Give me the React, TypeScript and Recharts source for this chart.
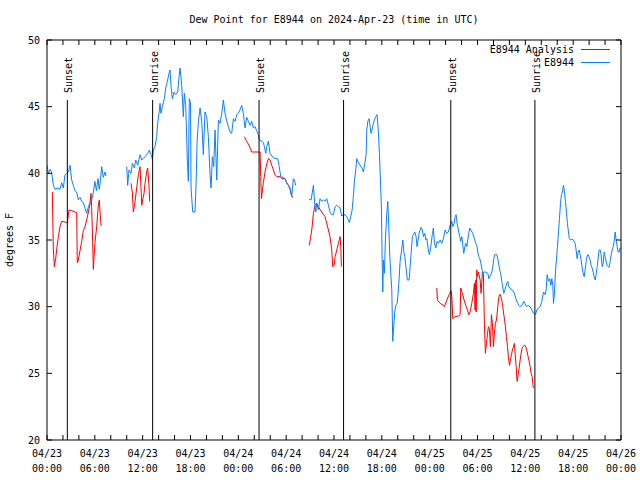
import React from 'react';
import { LineChart, Line, XAxis, YAxis, ReferenceLine } from 'recharts';

// x = hours since 2024-04-23 00:00 UTC, y = dew point in degrees F
const obsPart1: [number, number][] = [
  [0, 40.6], [0.17, 40.0], [0.4, 40.3], [0.58, 40.1], [0.8, 39.1], [1.0, 38.8], [1.3, 38.9],
  [1.63, 38.8], [1.84, 39.3], [2.05, 38.9], [2.26, 39.9], [2.47, 40.0], [2.68, 40.1], [2.89, 40.6],
  [3.1, 39.5], [3.3, 39.1], [3.5, 38.7], [3.72, 38.6], [3.93, 38.0], [4.14, 38.2], [4.35, 37.9],
  [4.56, 37.8], [4.77, 37.4], [4.98, 37.0], [5.19, 37.5], [5.4, 37.8], [5.6, 38.0], [5.8, 38.5],
  [6.0, 39.4], [6.2, 38.7], [6.4, 39.6], [6.55, 38.8], [6.65, 39.2], [6.86, 40.5], [7.06, 39.7],
  [7.28, 40.1], [7.4, 39.8],
];

const obsPart2: [number, number][] = [
  [10.0, 40.5], [10.12, 39.1], [10.29, 40.25], [10.54, 40.0], [10.7, 40.75], [10.96, 40.4],
  [11.13, 41.0], [11.38, 40.6], [11.67, 41.4], [11.88, 41.0], [12.08, 41.1], [12.3, 41.25],
  [12.63, 41.5], [12.84, 41.75], [13.05, 41.4], [13.21, 41.1], [13.34, 41.75], [13.55, 42.0],
  [13.76, 42.75], [13.88, 43.75], [14.05, 44.5], [14.18, 45.25], [14.3, 44.5], [14.47, 45.0],
  [14.72, 45.6], [14.89, 46.4], [15.1, 46.9], [15.3, 47.5], [15.43, 47.75], [15.56, 46.5],
  [15.73, 45.6], [15.93, 46.1], [16.14, 45.9], [16.4, 46.1], [16.56, 47.25], [16.69, 47.9],
  [16.9, 46.6], [17.1, 44.25], [17.23, 46.0], [17.4, 45.1], [17.6, 41.1], [17.73, 39.4],
  [17.85, 45.6], [18.0, 45.3], [18.07, 38.9], [18.28, 37.1], [18.57, 37.1], [18.7, 39.25],
  [18.82, 42.25], [18.99, 43.9], [19.2, 44.9], [19.41, 43.9], [19.61, 41.4], [19.82, 44.6],
  [20.04, 44.25], [20.24, 42.75], [20.45, 39.9], [20.58, 38.9], [20.74, 41.25], [20.91, 40.5],
  [21.08, 43.25], [21.29, 39.5], [21.5, 44.0], [21.7, 43.75], [21.92, 44.5], [22.12, 45.5],
  [22.33, 44.5], [22.55, 43.9], [22.75, 43.5], [22.96, 43.1], [23.17, 43.0], [23.38, 44.1],
  [23.59, 43.9], [23.8, 44.4], [24.0, 44.5], [24.2, 44.75], [24.43, 45.1], [24.63, 44.5],
  [24.84, 43.4], [25.05, 44.2], [25.26, 43.9], [25.47, 43.6], [25.68, 43.9], [25.88, 43.4],
  [26.1, 43.5], [26.3, 43.2], [26.5, 42.9], [26.64, 42.5], [26.94, 42.4], [27.14, 42.3],
  [27.27, 42.0], [27.44, 41.5], [27.56, 42.0], [27.77, 42.4], [27.98, 41.5], [28.19, 41.3],
  [28.4, 41.2], [28.6, 41.1], [28.95, 41.1], [29.1, 40.6], [29.32, 39.75], [29.65, 39.7],
  [29.86, 39.6], [30.07, 39.25], [30.28, 39.1], [30.49, 38.9], [30.7, 38.25], [30.9, 39.6],
  [31.03, 39.5], [31.2, 39.1],
];

const obsPart3: [number, number][] = [
  [32.87, 38.05], [33.12, 38.0], [33.29, 38.6], [33.42, 39.1], [33.54, 38.0], [33.71, 37.1],
  [33.84, 37.75], [34.04, 37.25], [34.25, 38.1], [34.46, 37.9], [34.67, 38.0], [34.88, 37.9],
  [35.09, 38.1], [35.3, 37.6], [35.5, 37.1], [35.72, 36.9], [35.92, 36.9], [36.14, 37.5],
  [36.34, 37.6], [36.55, 37.5], [36.76, 37.4], [36.97, 36.8], [37.18, 36.9], [37.39, 36.9],
  [37.6, 36.75], [37.8, 36.5], [37.93, 36.3], [38.1, 36.75], [38.27, 37.25], [38.43, 38.25],
  [38.56, 39.4], [38.73, 40.25], [38.86, 41.1], [38.98, 40.9], [39.15, 40.75], [39.36, 40.5],
  [39.52, 40.4], [39.69, 40.1], [39.86, 40.75], [40.03, 41.4], [40.11, 43.25], [40.24, 43.9],
  [40.4, 44.1], [40.53, 43.5], [40.65, 43.0], [40.82, 43.4], [40.94, 43.75], [41.12, 44.1],
  [41.24, 44.25], [41.4, 44.4], [41.53, 43.5], [41.7, 41.5], [41.82, 39.5], [41.95, 37.4],
  [42.03, 33.9], [42.12, 31.1], [42.2, 33.5], [42.32, 32.5], [42.45, 35.0], [42.53, 36.0],
  [42.62, 37.0], [42.75, 37.9], [42.87, 36.0], [43.0, 33.75], [43.12, 32.5], [43.25, 31.25],
  [43.37, 27.4], [43.5, 28.6], [43.62, 29.6], [43.75, 30.1], [43.92, 30.25], [44.04, 31.0],
  [44.17, 32.1], [44.29, 33.4], [44.45, 34.1], [44.63, 35.0], [44.76, 34.1], [44.88, 33.75],
  [45.04, 32.9], [45.2, 32.0], [45.42, 32.0], [45.55, 33.0], [45.67, 34.0], [45.84, 35.25],
  [45.96, 35.4], [46.13, 35.6], [46.3, 35.25], [46.42, 34.5], [46.55, 35.0], [46.71, 35.6],
  [46.93, 35.95], [47.09, 35.75], [47.22, 35.25], [47.39, 35.5], [47.52, 35.0], [47.64, 35.1],
  [47.84, 34.25], [47.97, 33.9], [48.14, 34.5], [48.35, 35.5], [48.47, 35.9], [48.6, 34.75],
  [48.77, 34.4], [48.93, 34.9], [49.1, 34.75], [49.31, 35.0], [49.52, 34.75], [49.72, 35.1],
  [49.94, 35.75], [50.15, 35.5], [50.35, 35.6], [50.56, 36.1], [50.78, 36.4], [50.9, 36.0],
  [51.07, 36.25], [51.19, 36.75], [51.32, 36.9], [51.44, 36.25], [51.6, 35.75], [51.78, 35.25],
  [51.9, 34.9], [52.03, 35.25], [52.16, 34.6], [52.28, 34.0], [52.41, 34.5], [52.53, 34.75],
  [52.66, 34.5], [52.78, 35.0], [52.9, 35.5], [53.03, 35.9], [53.16, 35.75], [53.41, 35.5],
  [53.66, 35.0], [53.79, 34.75], [53.91, 34.6], [54.04, 34.1], [54.16, 33.75], [54.29, 33.6],
  [54.42, 33.25], [54.54, 32.9], [54.67, 32.4], [54.79, 32.6], [55.04, 32.6], [55.3, 32.5],
  [55.42, 32.1], [55.55, 32.25], [55.67, 32.4], [55.8, 32.6], [55.92, 33.0], [56.05, 33.6],
  [56.17, 33.9], [56.42, 33.9], [56.55, 33.6], [56.68, 33.1], [56.8, 32.75], [56.93, 32.4],
  [57.05, 31.9], [57.18, 31.4], [57.3, 31.0], [57.43, 31.25], [57.55, 31.5], [57.68, 31.75],
  [57.8, 31.9], [57.93, 31.5], [58.06, 31.4], [58.31, 31.25], [58.56, 31.1], [58.68, 30.9],
  [58.81, 30.6], [58.93, 30.4], [59.06, 30.25], [59.18, 30.1], [59.31, 30.0], [59.56, 30.1],
  [59.81, 30.4], [59.94, 30.25], [60.06, 30.1], [60.19, 30.0], [60.31, 30.1], [60.57, 30.0],
  [60.69, 29.9], [60.82, 29.75], [60.94, 29.6], [61.07, 29.5], [61.19, 29.4], [61.32, 29.5],
  [61.44, 29.75], [61.65, 29.9], [61.86, 30.0], [62.07, 30.4], [62.27, 31.1], [62.48, 30.9],
  [62.61, 31.25], [62.74, 32.4], [62.9, 31.9], [63.07, 32.1], [63.2, 31.6], [63.32, 32.1],
  [63.45, 31.6], [63.53, 30.25], [63.65, 31.0], [63.78, 32.6], [63.9, 33.5], [64.03, 34.5],
  [64.16, 35.6], [64.28, 36.6], [64.41, 37.75], [64.53, 38.4], [64.66, 38.6], [64.78, 39.1],
  [64.91, 38.6], [65.03, 37.9], [65.16, 37.1], [65.28, 36.25], [65.41, 35.6], [65.53, 35.1],
  [65.66, 35.0], [65.83, 35.05], [66.04, 35.0], [66.25, 34.75], [66.37, 34.25], [66.5, 33.6],
  [66.62, 34.1], [66.75, 34.25], [66.88, 33.9], [67.0, 33.5], [67.13, 32.9], [67.25, 32.5],
  [67.38, 32.25], [67.5, 32.75], [67.63, 33.4], [67.75, 33.8], [67.88, 33.9], [68.0, 33.7],
  [68.13, 33.5], [68.26, 33.1], [68.38, 32.9], [68.51, 32.6], [68.63, 32.25], [68.76, 32.0],
  [68.88, 32.4], [69.01, 33.0], [69.13, 33.6], [69.26, 34.25], [69.39, 34.25], [69.51, 33.9],
  [69.64, 33.0], [69.76, 33.25], [69.89, 34.1], [70.01, 33.75], [70.14, 33.4], [70.26, 33.1],
  [70.39, 33.0], [70.51, 32.95], [70.64, 33.4], [70.77, 33.9], [70.89, 34.25], [71.02, 34.5],
  [71.14, 34.9], [71.27, 35.6], [71.39, 35.0], [71.52, 34.5], [71.64, 34.1], [71.77, 34.1],
  [71.89, 34.4], [72.0, 34.4],
];

const anaPart1: [number, number][] = [
  [0.67, 38.6], [0.71, 37.1], [0.79, 34.4], [0.92, 33.0], [1.09, 33.6], [1.21, 34.3],
  [1.42, 35.2], [1.63, 36.0], [1.84, 36.4], [2.26, 36.35], [2.55, 36.3], [2.76, 37.25],
  [3.1, 37.2], [3.72, 37.05], [3.8, 33.3], [3.93, 33.5], [4.14, 34.2], [4.35, 34.9],
  [4.56, 35.7], [4.77, 36.0], [4.98, 36.5], [5.19, 37.1], [5.4, 37.7], [5.52, 38.5],
  [5.6, 37.5], [5.73, 34.8], [5.81, 32.8], [5.9, 33.7], [6.02, 34.8], [6.23, 36.0],
  [6.44, 37.6], [6.56, 38.0], [6.65, 37.1], [6.78, 36.1], [6.86, 36.1],
];

const anaPart2: [number, number][] = [
  [10.54, 39.25], [10.7, 38.6], [10.83, 37.1], [10.96, 37.5], [11.13, 38.3], [11.25, 38.9],
  [11.46, 39.9], [11.67, 40.5], [11.8, 38.8], [11.88, 37.6], [12.0, 38.0], [12.17, 38.5],
  [12.3, 39.25], [12.5, 40.1], [12.63, 40.4], [12.8, 39.0], [12.88, 37.9],
];

const anaPart3: [number, number][] = [
  [24.76, 42.75], [25.05, 42.4], [25.35, 42.1], [25.68, 41.6], [26.73, 41.6], [26.81, 39.75],
  [26.9, 38.1], [27.02, 38.7], [27.14, 39.3], [27.35, 40.1], [27.56, 40.7], [27.77, 41.1],
  [27.98, 41.0], [28.19, 40.6], [28.4, 40.25], [28.6, 39.9], [28.82, 39.75], [29.23, 39.75],
  [29.45, 39.6], [29.86, 39.6], [30.07, 39.3], [30.28, 39.1], [30.49, 38.8], [30.7, 38.25],
  [30.9, 38.2],
];

const anaPart4: [number, number][] = [
  [32.91, 34.6], [33.21, 35.75], [33.42, 37.0], [33.63, 37.6], [33.84, 37.75], [34.04, 37.5],
  [34.46, 37.1], [34.88, 36.75], [35.09, 36.25], [35.3, 35.75], [35.5, 35.25], [35.72, 34.25],
  [35.84, 33.0], [36.01, 33.1], [36.14, 33.75], [36.35, 34.25], [36.55, 34.75], [36.76, 35.25],
  [36.85, 34.5], [36.93, 33.0],
];

const anaPart5: [number, number][] = [
  [48.89, 31.4], [48.97, 30.5], [49.31, 30.25], [49.72, 30.1], [49.85, 30.0], [50.15, 30.5],
  [50.44, 30.9], [50.69, 31.2], [50.78, 30.75], [50.9, 29.1], [51.19, 29.25], [51.6, 29.3],
  [51.82, 29.4], [51.9, 31.4], [52.11, 31.0], [52.32, 30.5], [52.53, 30.1], [52.74, 29.75],
  [52.91, 29.4], [53.07, 29.6], [53.28, 30.25], [53.49, 31.0], [53.61, 31.75], [53.7, 29.75],
  [53.79, 32.0], [53.83, 29.6], [53.91, 32.75], [53.99, 32.25], [54.12, 32.6], [54.33, 32.0],
  [54.45, 31.0], [54.62, 32.6], [54.74, 32.4], [54.87, 28.6], [54.99, 26.5], [55.12, 27.25],
  [55.24, 27.9], [55.37, 28.5], [55.5, 28.25], [55.62, 27.0], [55.75, 29.4], [55.87, 28.75],
  [56.0, 27.0], [56.12, 28.0], [56.25, 28.75], [56.38, 29.0], [56.5, 29.75], [56.63, 30.5],
  [56.75, 30.9], [56.88, 30.9], [57.0, 30.6], [57.13, 30.25], [57.25, 29.6], [57.38, 29.1],
  [57.5, 28.5], [57.63, 27.75], [57.76, 27.0], [57.88, 26.25], [58.01, 25.6], [58.13, 26.0],
  [58.26, 26.4], [58.38, 26.75], [58.51, 27.0], [58.63, 27.25], [58.72, 26.5], [58.85, 25.5],
  [58.97, 24.4], [59.1, 24.9], [59.22, 25.4], [59.35, 26.0], [59.47, 26.5], [59.6, 26.9],
  [59.72, 27.0], [59.85, 27.1], [59.97, 27.1], [60.1, 26.9], [60.23, 26.6], [60.35, 26.25],
  [60.48, 25.9], [60.6, 25.5], [60.73, 25.0], [60.85, 24.75], [60.98, 24.0], [61.02, 23.9],
];

const sunHours = [2.55, 13.25, 26.6, 37.2, 50.65, 61.2];
const sunLabels = ['Sunset', 'Sunrise', 'Sunset', 'Sunrise', 'Sunset', 'Sunrise'];

const xTicks = [0, 2, 4, 6, 8, 10, 12, 14, 16, 18, 20, 22, 24, 26, 28, 30, 32, 34, 36,
  38, 40, 42, 44, 46, 48, 50, 52, 54, 56, 58, 60, 62, 64, 66, 68, 70, 72];
const xLabelHours = [0, 6, 12, 18, 24, 30, 36, 42, 48, 54, 60, 66, 72];
const xLabelDates = ['04/23', '04/23', '04/23', '04/23', '04/24', '04/24', '04/24', '04/24',
  '04/25', '04/25', '04/25', '04/25', '04/26'];
const xLabelTimes = ['00:00', '06:00', '12:00', '18:00', '00:00', '06:00', '12:00', '18:00',
  '00:00', '06:00', '12:00', '18:00', '00:00'];
const yTicks = [20, 25, 30, 35, 40, 45, 50];

const FONT = 'DejaVu Sans Mono, Liberation Mono, monospace';
const TICK = 5;

// join gap-separated pieces into one series, null breaks the line
const joinParts = (parts: [number, number][][]) => {
  const out: { t: number; v: number | null }[] = [];
  parts.forEach((p, i) => {
    if (i > 0) out.push({ t: (out[out.length - 1].t + p[0][0]) / 2, v: null });
    p.forEach(([t, v]) => out.push({ t, v }));
  });
  return out;
};

const obsData = joinParts([obsPart1, obsPart2, obsPart3]);
const anaData = joinParts([anaPart1, anaPart2, anaPart3, anaPart4, anaPart5]);

const BottomTick = (props: any) => {
  const { x, y, payload } = props;
  const i = xLabelHours.indexOf(payload.value);
  return (
    <g>
      <line x1={x} y1={y} x2={x} y2={y - TICK} stroke="#000" />
      {i >= 0 && (
        <text x={x} y={y + 17} textAnchor="middle" fontFamily={FONT} fontSize={10} fill="#000">
          <tspan x={x}>{xLabelDates[i]}</tspan>
          <tspan x={x} dy={15}>{xLabelTimes[i]}</tspan>
        </text>
      )}
    </g>
  );
};

const TopTick = (props: any) => (
  <line x1={props.x} y1={props.y} x2={props.x} y2={props.y + TICK} stroke="#000" />
);

const LeftTick = (props: any) => {
  const { x, y, payload } = props;
  return (
    <g>
      <line x1={x} y1={y} x2={x + TICK} y2={y} stroke="#000" />
      <text x={x - 7} y={y + 3.5} textAnchor="end" fontFamily={FONT} fontSize={10} fill="#000">
        {payload.value}
      </text>
    </g>
  );
};

const RightTick = (props: any) => (
  <line x1={props.x} y1={props.y} x2={props.x - TICK} y2={props.y} stroke="#000" />
);

const sunLabel = (text: string) => (p: any) => {
  const vb = p.viewBox || {};
  if (vb.x == null) return null;
  const x = vb.x + 5;
  const y = vb.y - 7;
  return (
    <text x={x} y={y} transform={`rotate(-90 ${x} ${y})`} fontFamily={FONT} fontSize={10} fill="#000">
      {text}
    </text>
  );
};

export default function App() {
  return (
    <div style={{ position: 'absolute', left: 0, top: 0, width: 640, height: 480, background: '#fff' }}>
      <LineChart width={640} height={480} margin={{ top: 39, right: 18, bottom: 39, left: 46 }}>
        <XAxis
          type="number"
          dataKey="t"
          domain={[0, 72]}
          ticks={xTicks}
          interval={0}
          allowDataOverflow
          height={1}
          tickSize={0}
          tickMargin={0}
          tickLine={false}
          axisLine={{ stroke: '#000' }}
          tick={(p: any) => <BottomTick {...p} />}
        />
        <XAxis
          xAxisId="top"
          orientation="top"
          type="number"
          dataKey="t"
          domain={[0, 72]}
          ticks={xTicks}
          interval={0}
          allowDataOverflow
          height={1}
          tickSize={0}
          tickMargin={0}
          tickLine={false}
          axisLine={{ stroke: '#000' }}
          tick={(p: any) => <TopTick {...p} />}
        />
        <YAxis
          type="number"
          domain={[20, 50]}
          ticks={yTicks}
          interval={0}
          allowDataOverflow
          width={1}
          tickSize={0}
          tickMargin={0}
          tickLine={false}
          axisLine={{ stroke: '#000' }}
          tick={(p: any) => <LeftTick {...p} />}
        />
        <YAxis
          yAxisId="right"
          orientation="right"
          type="number"
          domain={[20, 50]}
          ticks={yTicks}
          interval={0}
          allowDataOverflow
          width={1}
          tickSize={0}
          tickMargin={0}
          tickLine={false}
          axisLine={{ stroke: '#000' }}
          tick={(p: any) => <RightTick {...p} />}
        />
        <Line
          data={anaData}
          dataKey="v"
          type="linear"
          stroke="#ff0000"
          strokeWidth={1}
          dot={false}
          activeDot={false}
          connectNulls={false}
          isAnimationActive={false}
        />
        <Line
          data={obsData}
          dataKey="v"
          type="linear"
          stroke="#0a80ff"
          strokeWidth={1}
          dot={false}
          activeDot={false}
          connectNulls={false}
          isAnimationActive={false}
        />
        {sunHours.map((h, i) => (
          <ReferenceLine
            key={i}
            segment={[{ x: h, y: 20 }, { x: h, y: 45.5 }]}
            stroke="#000"
            strokeWidth={1}
            label={sunLabel(sunLabels[i])}
          />
        ))}
      </LineChart>
      <svg
        width={640}
        height={480}
        style={{ position: 'absolute', left: 0, top: 0, pointerEvents: 'none' }}
        fontFamily={FONT}
        fontSize={10}
      >
        <text x={334} y={23} textAnchor="middle" fill="#000">
          Dew Point for E8944 on 2024-Apr-23 (time in UTC)
        </text>
        <text x={13} y={240} textAnchor="middle" fill="#000" transform="rotate(-90 13 240)">
          degrees F
        </text>
        <text x={574} y={53} textAnchor="end" fill="#000">E8944 Analysis</text>
        <line x1={581} y1={49.5} x2={610} y2={49.5} stroke="#ff0000" />
        <text x={574} y={66} textAnchor="end" fill="#000">E8944</text>
        <line x1={581} y1={62.5} x2={610} y2={62.5} stroke="#0a80ff" />
      </svg>
    </div>
  );
}
